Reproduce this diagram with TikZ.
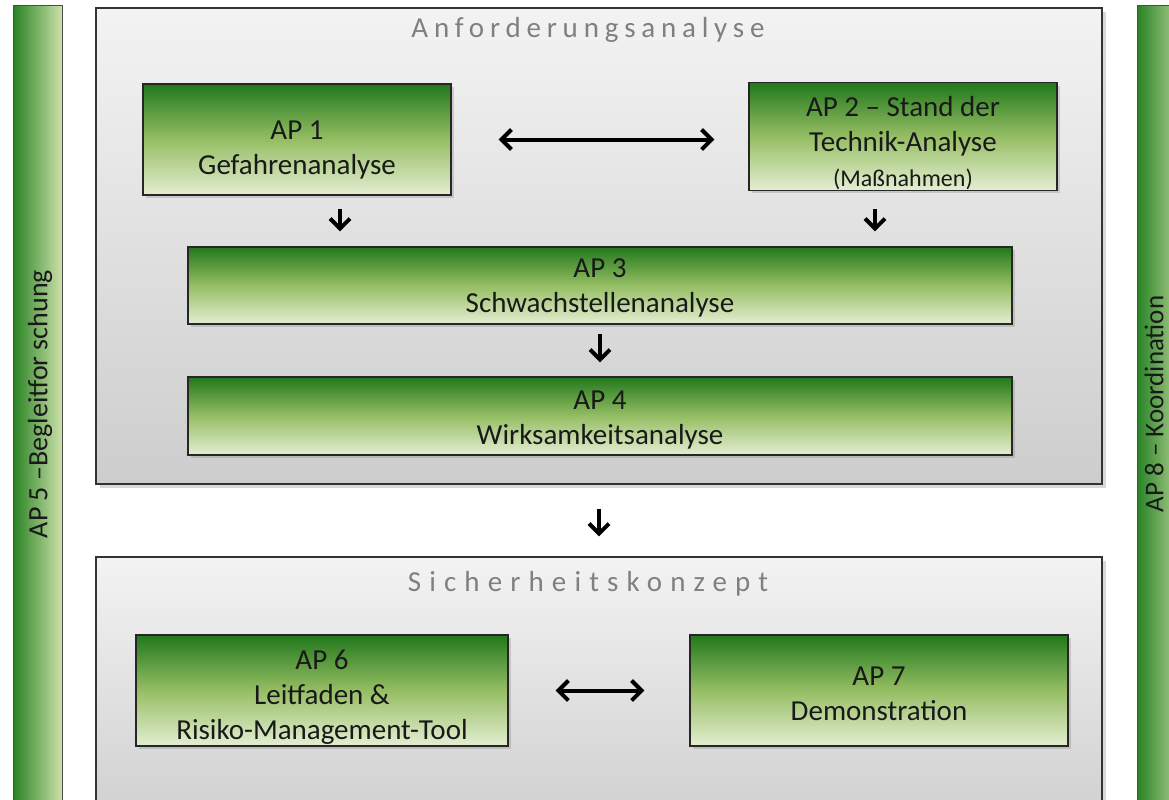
\documentclass[tikz,border=0pt]{standalone}
\usepackage{fontspec}
\setmainfont{Carlito}
\newfontfamily\spaced[LetterSpace=20]{Carlito}
\newfontfamily\spacedwide[LetterSpace=28]{Carlito}
\usepackage{tikz}
\usetikzlibrary{positioning}
\usetikzlibrary{arrows.meta,shadows}
\definecolor{apdark}{RGB}{34,120,28}
\definecolor{apmid}{RGB}{150,190,100}
\definecolor{aplight}{RGB}{228,238,210}
\definecolor{bardark}{RGB}{40,130,35}
\definecolor{barlight}{RGB}{205,225,170}
\definecolor{paneltop}{RGB}{243,243,243}
\definecolor{panelbot}{RGB}{205,205,205}
\definecolor{titlegray}{RGB}{128,128,128}
\newcommand{\topgap}[1]{\rule{0pt}{#1}}
\tikzset{%
  ap/.style = {rectangle,draw=black!85,line width=0.6pt,inner sep=0pt,
        top color=apdark,bottom color=aplight,middle color=apmid,
        align=center,text=black!90,font=\fontsize{14.5}{17.5}\selectfont,
        drop shadow={shadow xshift=1.5pt,shadow yshift=-1.5pt,opacity=0.3}},
  panel/.style = {rectangle,draw=black!80,line width=0.6pt,inner sep=0pt,
        top color=paneltop,bottom color=panelbot,
        drop shadow={shadow xshift=2pt,shadow yshift=-2pt,opacity=0.3}},
  bar/.style = {rectangle,draw=black!70,line width=0.5pt,inner sep=0pt,
        left color=bardark,right color=barlight},
  heading/.style = {text=titlegray,inner sep=0pt,
        font=\spaced\fontsize{14.5}{17}\selectfont},
  bartext/.style = {rotate=90,inner sep=0pt,text=black!90,
        font=\fontsize{14}{17}\selectfont},
  arr/.style = {-{Straight Barb[length=5pt,width=10pt]},line width=2pt},
  dblarr/.style = {{Straight Barb[length=5pt,width=10pt]}-{Straight Barb[length=5pt,width=10pt]},
        line width=2pt}
}

\begin{document}
\begin{tikzpicture}[x=0.5pt,y=-0.5pt]
  \useasboundingbox (0,0) rectangle (1169,799);
  \clip (0,0) rectangle (1169,799);
  \fill[white] (0,0) rectangle (1169,799);

  % side bars
  \node[bar,minimum width=24.5pt,minimum height=420pt] (bar5) at (37.5,425) {};
  \node[bar,minimum width=26.5pt,minimum height=420pt] (bar8) at (1163.5,425) {};
  \node[bartext] (ap5) at (40,404) {AP 5 –Begleitfor schung};
  \node[bartext,font=\fontsize{13.5}{16}\selectfont] (ap8) at (1154,404) {AP 8 – Koordination};

  % panels
  \node[panel,minimum width=503pt,minimum height=238pt] (anf) at (599,246) {};
  \node[panel,minimum width=503pt,minimum height=141.5pt] (sik) at (599,698.5) {};
  \node[heading] (anftitle) at (588,30) {Anforderungsanalyse};
  \node[heading,font=\spacedwide\fontsize{14.5}{17}\selectfont] (siktitle) at (588,584)
        {Sicherheitskonzept};

  % work packages
  \node[ap,minimum width=154pt,minimum height=55.5pt] (ap1) at (297,139.5)
        {\topgap{20pt}AP 1\\Gefahrenanalyse};
  \node[ap,minimum width=154pt,minimum height=53.5pt] (ap2) at (903,136.5)
        {\topgap{17pt}AP 2 – Stand der\\Technik-Analyse\\{\fontsize{12}{15}\selectfont(Maßnahmen)}};
  \node[ap,minimum width=412pt,minimum height=38.5pt] (ap3) at (600,285.5)
        {\topgap{12pt}AP 3\\Schwachstellenanalyse};
  \node[ap,minimum width=412pt,minimum height=39pt] (ap4) at (600,416)
        {\topgap{13pt}AP 4\\Wirksamkeitsanalyse};
  \node[ap,minimum width=186pt,minimum height=55.5pt] (ap6) at (322,690.5)
        {\topgap{16.5pt}AP 6\\Leitfaden \&\\Risiko-Management-Tool};
  \node[ap,minimum width=189pt,minimum height=55.5pt] (ap7) at (879,690.5)
        {\topgap{12.5pt}AP 7\\Demonstration};

  \draw[dblarr,shorten <=23.5pt,shorten >=17pt] (ap1.east) -- (ap1.east -| ap2.west);
  \draw[arr,shorten <=6.5pt,shorten >=7.5pt] ([xshift=21.5pt]ap1.south) -- ([xshift=21.5pt]ap1.south |- ap3.north);
  \draw[arr,shorten <=9pt,shorten >=7.5pt] ([xshift=-14pt]ap2.south) -- ([xshift=-14pt]ap2.south |- ap3.north);
  \draw[arr,shorten <=4.5pt,shorten >=7pt] (ap3) -- (ap4);
  \draw[arr,shorten <=12pt,shorten >=10pt] (anf) -- (sik);
  \draw[dblarr,shorten <=23.5pt,shorten >=22.5pt] (ap6) -- (ap7);
\end{tikzpicture}
\end{document}
